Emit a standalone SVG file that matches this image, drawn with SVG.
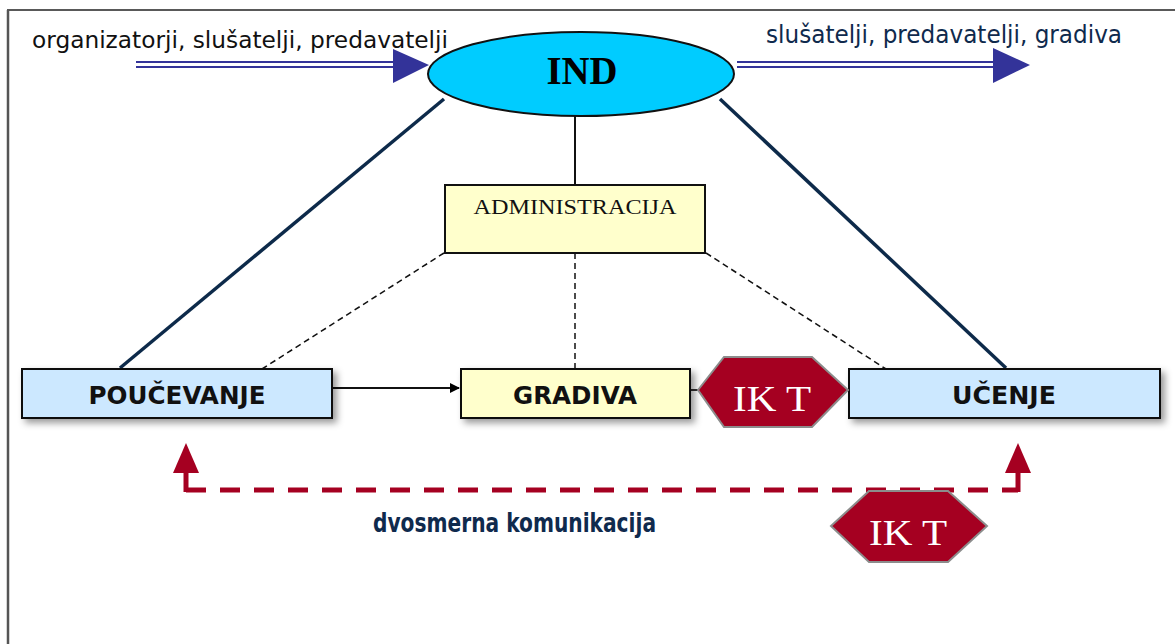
<svg xmlns="http://www.w3.org/2000/svg" width="1175" height="644" viewBox="0 0 1175 644">
<style>
.lbl{font-family:"DejaVu Sans","Liberation Sans",sans-serif}
.box{stroke:#111;stroke-width:2}
.bold{font-weight:bold;font-size:25px;fill:#111;text-anchor:middle}
.hex{fill:#A50021;stroke:#8c8c8c;stroke-width:2}
.ikt{font-family:"Liberation Serif",serif;font-size:36px;fill:#fff;text-anchor:middle}
.navy{stroke:#0d2a4a;stroke-width:3.5;fill:none}
.dash{stroke:#111;stroke-width:1.5;stroke-dasharray:6 4;fill:none}
.dbl{stroke:#333399;stroke-width:2;fill:none}
</style>
<defs>
<filter id="sh" x="-10%" y="-30%" width="125%" height="170%">
<feDropShadow dx="4" dy="4" stdDeviation="3.5" flood-color="#000" flood-opacity="0.4"/>
</filter>
<marker id="ah" markerWidth="10" markerHeight="10" refX="9" refY="5" orient="auto" markerUnits="userSpaceOnUse" viewBox="0 0 10 10">
<path d="M0,0 L10,5 L0,10 z" fill="#000"/>
</marker>
</defs>
<rect width="1175" height="644" fill="#fff"/>
<g id="frame">
<line x1="7" y1="10" x2="1175" y2="10" stroke="#222" stroke-width="1.5"/>
<line x1="8" y1="10" x2="8" y2="644" stroke="#555" stroke-width="2.5"/>
</g>
<g id="connectors">
<line class="dbl" x1="136" y1="62" x2="396" y2="62"/>
<line class="dbl" x1="136" y1="67" x2="396" y2="67"/>
<polygon points="393,49 429,65 393,83" fill="#333399"/>
<line class="dbl" x1="737" y1="62" x2="996" y2="62"/>
<line class="dbl" x1="737" y1="67" x2="996" y2="67"/>
<polygon points="993,48 1030,65 993,83" fill="#333399"/>
<line x1="575" y1="116" x2="575" y2="185" stroke="#111" stroke-width="2"/>
<line class="navy" x1="444" y1="99" x2="120" y2="368"/>
<line class="navy" x1="720" y1="99" x2="1006" y2="368"/>
<line class="dash" x1="444" y1="253" x2="262" y2="369"/>
<line class="dash" x1="575" y1="253" x2="575" y2="369"/>
<line class="dash" x1="706" y1="253" x2="886" y2="369"/>
<line x1="332" y1="388" x2="459" y2="388" stroke="#111" stroke-width="2" marker-end="url(#ah)"/>
<line x1="690" y1="390" x2="699" y2="390" stroke="#333" stroke-width="2"/>
<path d="M186,490 H1018" stroke="#A50021" stroke-width="5" stroke-dasharray="20 14" fill="none"/>
<line x1="186" y1="492" x2="186" y2="470" stroke="#A50021" stroke-width="5"/>
<line x1="1018" y1="492" x2="1018" y2="470" stroke="#A50021" stroke-width="5"/>
<polygon points="173,473 186,443 199,473" fill="#A50021"/>
<polygon points="1005,473 1018,443 1031,473" fill="#A50021"/>
</g>
<g id="label-left">
<text class="lbl" x="32" y="48" font-size="23" fill="#111" textLength="416" lengthAdjust="spacingAndGlyphs">organizatorji, slušatelji, predavatelji</text>
</g>
<g id="label-right">
<text class="lbl" x="766" y="43" font-size="25" fill="#0f2a4d" textLength="356" lengthAdjust="spacingAndGlyphs">slušatelji, predavatelji, gradiva</text>
</g>
<g id="ind">
<ellipse cx="581" cy="74" rx="153" ry="42" fill="#00CCFF" stroke="#111" stroke-width="2"/>
<text x="582" y="84" font-family="Liberation Serif,serif" font-weight="bold" font-size="39" text-anchor="middle" fill="#000" textLength="71" lengthAdjust="spacingAndGlyphs">IND</text>
</g>
<g id="administracija">
<rect class="box" x="445" y="185" width="260" height="68" fill="#FFFFCC"/>
<text x="575" y="214" font-family="Liberation Serif,serif" font-size="20" text-anchor="middle" fill="#111" textLength="203" lengthAdjust="spacingAndGlyphs">ADMINISTRACIJA</text>
</g>
<g id="poucevanje">
<rect class="box" x="22" y="369" width="310" height="49" fill="#CCE8FF" filter="url(#sh)"/>
<text class="lbl bold" x="177" y="404" textLength="177" lengthAdjust="spacingAndGlyphs">POUČEVANJE</text>
</g>
<g id="gradiva">
<rect class="box" x="461" y="369" width="229" height="49" fill="#FFFFCC" filter="url(#sh)"/>
<text class="lbl bold" x="575" y="404" textLength="124" lengthAdjust="spacingAndGlyphs">GRADIVA</text>
</g>
<g id="ucenje">
<rect class="box" x="849" y="369" width="311" height="49" fill="#CCE8FF" filter="url(#sh)"/>
<text class="lbl bold" x="1004" y="404" textLength="104" lengthAdjust="spacingAndGlyphs">UČENJE</text>
</g>
<g id="ikt1">
<polygon class="hex" points="698,390 724,357 812,357 848,390 812,427 724,427"/>
<text class="ikt" x="772" y="411" textLength="78" lengthAdjust="spacingAndGlyphs">IK T</text>
</g>
<g id="ikt2">
<polygon class="hex" points="831,526 869,491 948,491 987,526 948,562 869,562"/>
<text class="ikt" x="908" y="545" textLength="78" lengthAdjust="spacingAndGlyphs">IK T</text>
</g>
<g id="komunikacija">
<text class="lbl" x="373" y="532" font-size="26" font-weight="bold" fill="#0f2a4d" textLength="283" lengthAdjust="spacingAndGlyphs">dvosmerna komunikacija</text>
</g>
</svg>
